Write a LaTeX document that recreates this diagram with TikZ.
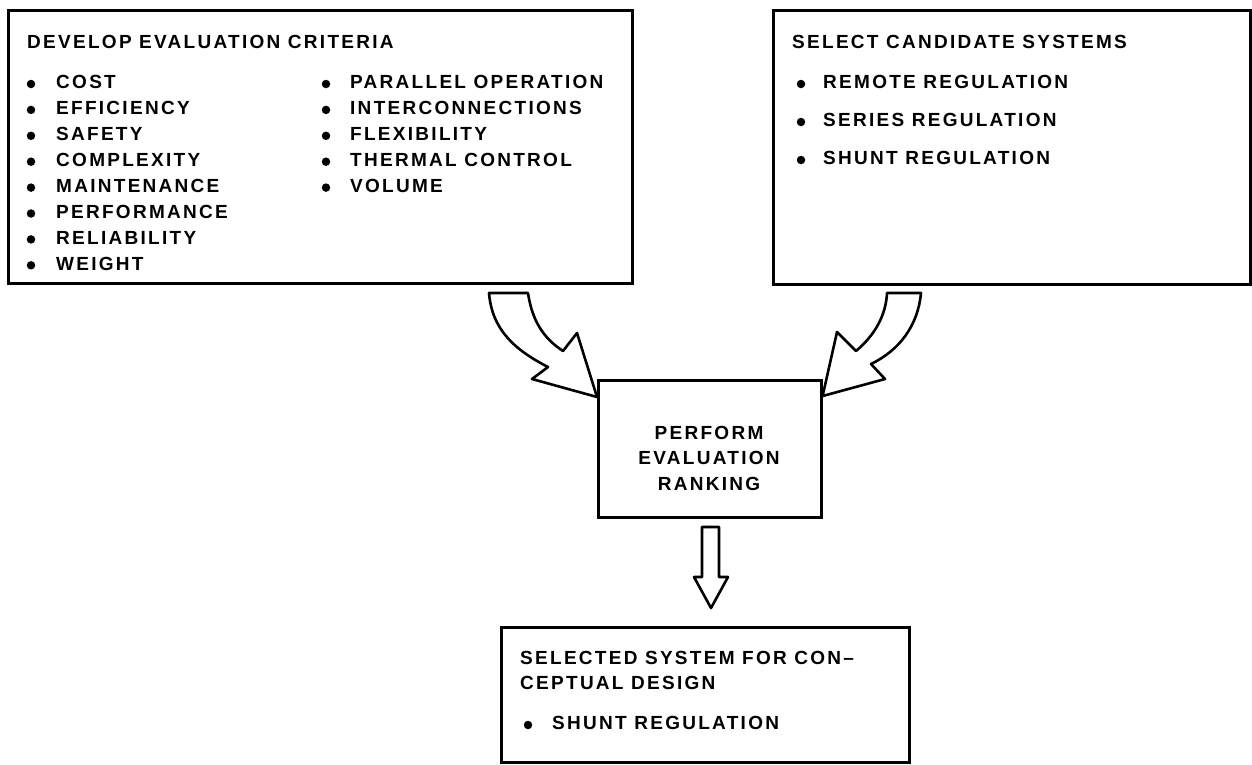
\documentclass[tikz,border=0pt]{standalone}
\usepackage{fontspec}
\setmainfont{Liberation Sans}
\newfontfamily\letterfont[LetterSpace=12]{Liberation Sans Bold}
\newcommand{\lettering}{\letterfont\fontsize{19}{25.5}\selectfont}
\tikzset{
  box/.style={draw, line width=2.6pt, rectangle, inner sep=0pt, anchor=north west},
  lbl/.style={anchor=west, inner sep=0pt, font=\lettering, text height=13.5pt, text depth=0pt},
  dotmark/.style={fill=black, circle, inner sep=0pt, minimum size=8.5pt},
  blockarrow/.style={draw, line width=2.6pt, line join=round, fill=white},
}
\begin{document}
\begin{tikzpicture}[x=1pt, y=-1pt]
\useasboundingbox (0,0) rectangle (1252,764);

% ---- the four boxes
\node[box, minimum width=624pt, minimum height=273pt] (crit) at (7,9) {};
\node[box, minimum width=477pt, minimum height=274pt] (cand) at (772,9) {};
\node[box, minimum width=223pt, minimum height=137pt] (perf) at (597,379) {};
\node[box, minimum width=408pt, minimum height=135pt] (sel)  at (500,626) {};

% ---- evaluation criteria
\node[lbl] (critT) at (27,42) {DEVELOP EVALUATION CRITERIA};
\foreach \t [count=\i from 0] in {COST, EFFICIENCY, SAFETY, COMPLEXITY,
    MAINTENANCE, PERFORMANCE, RELIABILITY, WEIGHT} {
  \node[dotmark] (cdA\i) at (31, 84+25.9*\i) {};
  \node[lbl] (ctA\i) at (56, 82+25.9*\i) {\t};
}
\foreach \t [count=\i from 0] in {PARALLEL OPERATION, INTERCONNECTIONS,
    FLEXIBILITY, THERMAL CONTROL, VOLUME} {
  \node[dotmark] (cdB\i) at (326, 84+25.9*\i) {};
  \node[lbl] (ctB\i) at (350, 82+25.9*\i) {\t};
}

% ---- candidate systems
\node[lbl] (candT) at (792,42) {SELECT CANDIDATE SYSTEMS};
\foreach \t/\y [count=\i] in {REMOTE REGULATION/82, SERIES REGULATION/120,
    SHUNT REGULATION/158} {
  \node[dotmark] (sd\i) at (801, \y+2) {};
  \node[lbl] (st\i) at (823, \y) {\t};
}

% ---- evaluation ranking
\node[inner sep=0pt, font=\lettering, align=center] (perfT) at (709,458)
  {PERFORM\\EVALUATION\\RANKING};

% ---- selected system
\node[lbl] (selT1) at (520,658) {SELECTED SYSTEM FOR CON–};
\node[lbl] (selT2) at (520,683) {CEPTUAL DESIGN};
\node[dotmark] (selD) at (528,725) {};
\node[lbl] (selT3) at (552,723) {SHUNT REGULATION};

% ---- curved block arrow from the criteria box
\draw[blockarrow] (489,293) -- (528,293)
  .. controls (532,320) and (543,338) .. (563,351)
  -- (577,333) -- (perf.north west |- 0,397) -- (532,379) -- (548,367)
  .. controls (515,350) and (492,330) .. (489,293) -- cycle;

% ---- curved block arrow from the candidate box
\draw[blockarrow] (887,293) -- (921,293)
  .. controls (918,325) and (900,350) .. (871,364)
  -- (885,379) -- (perf.north east |- 0,396) -- (837,332) -- (856,351)
  .. controls (875,335) and (886,315) .. (887,293) -- cycle;

% ---- straight block arrow down to the selected system
\draw[blockarrow] (702,527) -- (719,527) -- (719,577) -- (728,577)
  -- (711,608) -- (694,577) -- (702,577) -- cycle;
\end{tikzpicture}
\end{document}
